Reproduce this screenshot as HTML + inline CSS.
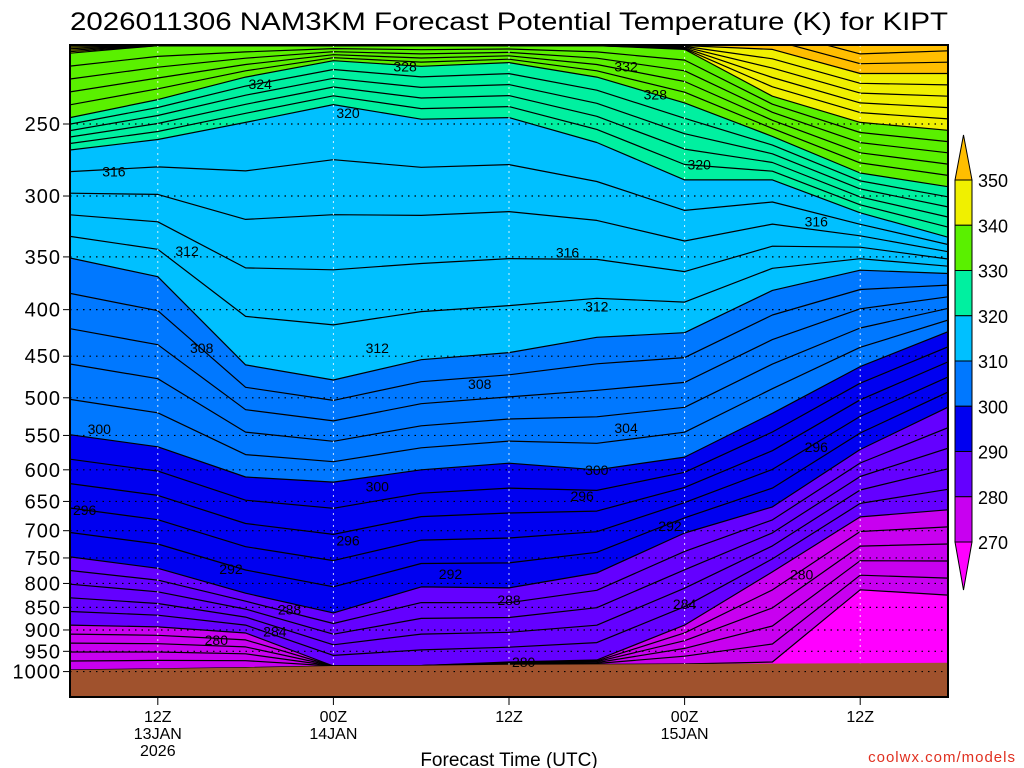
<!DOCTYPE html>
<html><head><meta charset="utf-8"><style>
html,body{margin:0;padding:0;background:#fff;}
svg{display:block;font-family:"Liberation Sans",sans-serif;}
</style></head><body>
<svg id="chart" width="1024" height="768" viewBox="0 0 1024 768" xmlns="http://www.w3.org/2000/svg">
<rect x="0" y="0" width="1024" height="768" fill="#fff"/>
<text x="509" y="30" text-anchor="middle" font-size="25" textLength="878" lengthAdjust="spacingAndGlyphs" fill="#000">2026011306 NAM3KM Forecast Potential Temperature (K) for KIPT</text>
<defs><clipPath id="plotclip"><rect x="70" y="45" width="878" height="652"/></clipPath></defs>
<g id="fills" clip-path="url(#plotclip)"></g>
<g id="lines" clip-path="url(#plotclip)"></g>
<g id="grid" clip-path="url(#plotclip)"></g>
<g id="ground" clip-path="url(#plotclip)"></g>
<g id="clabels"></g>
<rect x="70" y="45" width="878" height="652" fill="none" stroke="#000" stroke-width="2"/>
<g id="yaxis"></g>
<g id="xaxis"></g>
<text x="509" y="766" text-anchor="middle" font-size="19" fill="#000">Forecast Time (UTC)</text>
<text x="1016" y="762" text-anchor="end" font-size="15" fill="#e03020" letter-spacing="1">coolwx.com/models</text>
<g id="cbar"></g>
</svg>
<script>
const hours=[0,6,12,18,24,30,36,42,48,54,60];
const p350=[205,205,205,205,205,205,205,205,207,220,220];
const p340=[209,205,205,205,205,205,205,207,233,249,254];
const p330=[246,235,222,213,216,214,222,237,258,283,293];
const p320=[267,260,249,238,247,246,262,288,288,313,333];
const p310=[351,368,460,478,454,446,429,424,381,362,365];
const p300=[549,566,611,619,600,590,600,581,520,462,423];
const p290=[748,770,820,862,807,809,779,704,659,570,512];
const p280=[889,893,907,986,985,976,971,889,777,676,664];
const p270=[996,993,990,986,985,983,982,981,976,813,824];
const psfc=[996,993,990,986,985,983,982,981,980,979,978];
const pLevels=[250,300,350,400,450,500,550,600,650,700,750,800,850,900,950,1000];
const timeTicks=[6,18,30,42,54];
const timeLab1=["12Z","00Z","12Z","00Z","12Z"];
const timeLab2=["13JAN","14JAN","","15JAN",""];
const timeLab3=["2026","","","",""];
const cbarLevels=[350,340,330,320,310,300,290,280,270];
const labHours=[13,22.9,38,40,19,43,3,51,8,34,36,21,9,28,38,2,36,21,1,35,51,19,11,26,41,15,30,14,42,10,31,50];
const labPres=[226,216,216,232,243,277,282,320,345,346,397,441,441,483,540,541,600,626,664,641,566,718,771,781,692,855,834,904,843,923,976,782];
const labText=["324","328","332","328","320","320","316","316","312","316","312","312","308","308","304","300","300","300","296","296","296","296","292","292","292","288","288","284","284","280","280","280"];

const NS="http://www.w3.org/2000/svg";
function xOf(h){return 70+h*878/60;}
function yOf(p){return 124+395*Math.log(p/250);}
function mk(tag,attrs,parent){const e=document.createElementNS(NS,tag);for(const k in attrs)e.setAttribute(k,attrs[k]);parent.appendChild(e);return e;}

const fills=document.getElementById('fills');
const bands=[p350,p340,p330,p320,p310,p300,p290,p280,p270];
const bandColors=["#f0f000","#5af000","#00f0a0","#00c0ff","#0078ff","#0000f0","#6400ff","#c800f0","#ff00ff"];
let r=mk('rect',{x:70,y:45,width:878,height:652,fill:"#ffbe00"},fills);


bands.forEach((arr,i)=>{
  let pts=hours.map((h,j)=>xOf(h).toFixed(1)+","+yOf(arr[j]).toFixed(1));
  pts.push("948,697","70,697");
  const pg=mk('polygon',{points:pts.join(" "),fill:bandColors[i]},fills);
  
  
});

const lines=document.getElementById('lines');
function drawLine(ys,name){
  const pts=hours.map((h,j)=>{let y=Math.min(ys[j],yOf(psfc[j]));return xOf(h).toFixed(1)+","+y.toFixed(1);});
  const pl=mk('polyline',{points:pts.join(" "),fill:"none",stroke:"#000","stroke-width":1.2,"stroke-linejoin":"round"},lines);
  
  
}
{const yU=p350.map(yOf),yL=p340.map(yOf);
 for(let k=1;k<=4;k++){drawLine(yU.map((y,j)=>y-(yL[j]-yU[j])*k/5),'isentrope-above-350');}}
for(let i=0;i<bands.length-1;i++){
  const yU=bands[i].map(yOf),yL=bands[i+1].map(yOf);
  for(let k=0;k<5;k++){
    drawLine(yU.map((y,j)=>y+(yL[j]-y)*k/5),'isentrope-'+(cbarLevels[i]-2*k));
  }
}
drawLine(p270.map(yOf),'isentrope-270');

const grid=document.getElementById('grid');
pLevels.forEach(p=>{const y=yOf(p);
  const l=mk('line',{x1:70,x2:948,y1:y,y2:y,stroke:"#000","stroke-width":1.2,"stroke-dasharray":"1.5 5"},grid);
  
  
});
timeTicks.forEach(h=>{const x=xOf(h);
  const l=mk('line',{x1:x,x2:x,y1:45,y2:697,stroke:"#fff","stroke-width":1,"stroke-dasharray":"2 4",opacity:0.8},grid);
  
  
});

const ground=document.getElementById('ground');
{let pts=hours.map((h,j)=>xOf(h).toFixed(1)+","+yOf(psfc[j]).toFixed(1));pts.push("948,697","70,697");
 const g=mk('polygon',{points:pts.join(" "),fill:"#a0522d"},ground);
 
 
 const l=mk('line',{x1:70,x2:948,y1:yOf(1000),y2:yOf(1000),stroke:"#000","stroke-width":1.2,"stroke-dasharray":"1.5 5"},ground);
 
 
}

const cl=document.getElementById('clabels');
labText.forEach((t,i)=>{
  const tx=mk('text',{x:xOf(labHours[i]),y:yOf(labPres[i])+5,"text-anchor":"middle","font-size":14,fill:"#000"},cl);
  tx.textContent=t;
  
  
});

const ya=document.getElementById('yaxis');
pLevels.forEach(p=>{const y=yOf(p);
  const t=mk('text',{x:61,y:y+7,"text-anchor":"end","font-size":20,fill:"#000","letter-spacing":"1"},ya);
  t.textContent=p;
  
  
  const tk=mk('line',{x1:63,x2:70,y1:y,y2:y,stroke:"#000","stroke-width":1},ya);
  
  
});

const xa=document.getElementById('xaxis');
timeTicks.forEach((h,i)=>{const x=xOf(h);
  const tk=mk('line',{x1:x,x2:x,y1:697,y2:705,stroke:"#000","stroke-width":1},xa);
  
  
  [[timeLab1[i],722],[timeLab2[i],739],[timeLab3[i],756]].forEach(([s,y])=>{
    if(!s)return;
    const t=mk('text',{x:x,y:y,"text-anchor":"middle","font-size":16,fill:"#000"},xa);
    t.textContent=s;
    
    
  });
});

const cb=document.getElementById('cbar');
function cy(v){return 180+(350-v)*45.25/10;}
{const t=mk('polygon',{points:"955,180 963.5,135 972,180",fill:"#ffbe00",stroke:"#000","stroke-width":1},cb);
 
 }
for(let i=0;i<8;i++){
  const v=cbarLevels[i];
  const rr=mk('rect',{x:955,y:cy(v),width:17,height:cy(v-10)-cy(v),fill:bandColors[i],stroke:"#000","stroke-width":1},cb);
  
  
}
{const t=mk('polygon',{points:"955,"+cy(270)+" 963.5,590 972,"+cy(270),fill:"#ff00ff",stroke:"#000","stroke-width":1},cb);
 
 }
cbarLevels.forEach(v=>{
  const t=mk('text',{x:978,y:cy(v)+7,"font-size":18,fill:"#000"},cb);
  t.textContent=v;
  
  
});
</script>
</body></html>
